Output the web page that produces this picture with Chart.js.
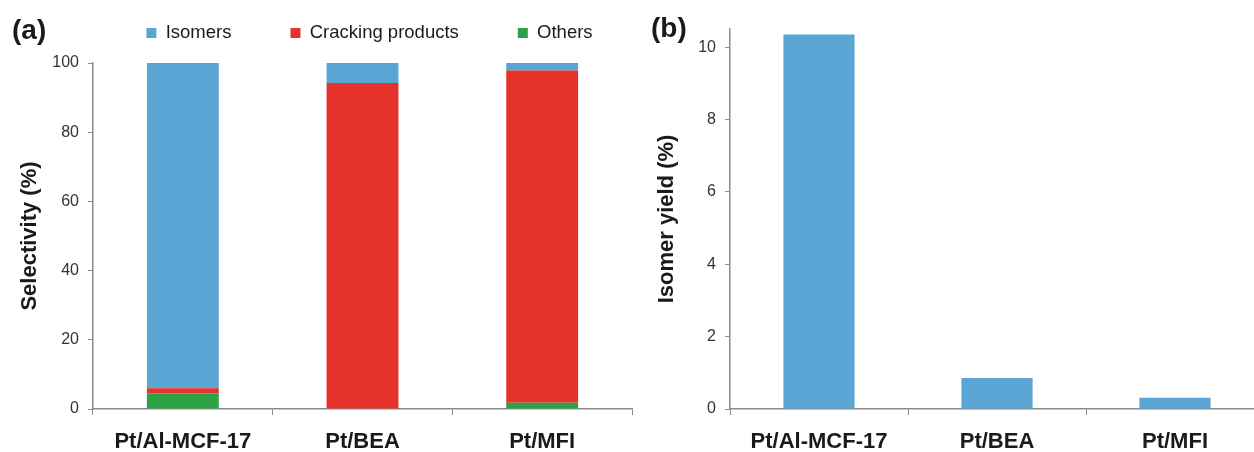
<!DOCTYPE html>
<html>
<head>
<meta charset="utf-8">
<script src="https://cdn.jsdelivr.net/npm/chart.js@4/dist/chart.umd.min.js"></script>
<style>
  html, body { margin: 0; padding: 0; background: #fff; overflow: hidden; width: 1254px; height: 452px; }
  #wa { position: absolute; left: 0; top: 0; width: 739px; height: 452px; }
  #wb { position: absolute; left: 627px; top: 0; width: 640px; height: 452px; }
  .lbl { position: absolute; font-family: "Liberation Sans", Arial, sans-serif; font-weight: bold; font-size: 28px; color: #1a1a1a; line-height: 1; }
</style>
</head>
<body>
<div id="wa"><canvas id="ca"></canvas></div>
<div id="wb"><canvas id="cb"></canvas></div>
<div class="lbl" style="left:12px; top:16px;">(a)</div>
<div class="lbl" style="left:651px; top:14px;">(b)</div>
<script>
const categories = ["Pt/Al-MCF-17", "Pt/BEA", "Pt/MFI"];
const isomers = [94.0, 5.8, 2.2];
const cracking = [1.5, 94.2, 96.0];
const others = [4.5, 0, 1.8];
const isomerYield = [10.35, 0.86, 0.31];
const selTicks = [0, 20, 40, 60, 80, 100];
const yieldTicks = [0, 2, 4, 6, 8, 10];

const FONT = '"Liberation Sans", Arial, sans-serif';
const AX = '#8c8c8c';
const BLUE = '#5ba5d5', RED = '#e5322b', GREEN = '#2ea046';

function spacer(axis, position, size) {
  return {
    type: 'linear', axis: axis, position: position, display: true,
    grid: { display: false, drawTicks: false }, border: { display: false },
    ticks: { display: false },
    afterFit: s => { if (axis === 'y') s.width = size; else s.height = size; }
  };
}

function xScale() {
  return {
    type: 'category',
    stacked: true,
    offset: true,
    grid: { offset: true, drawOnChartArea: false, drawTicks: true, tickLength: 6, color: AX, tickColor: AX },
    border: { color: AX, width: 1.5 },
    ticks: { color: '#1a1a1a', font: { family: FONT, size: 22, weight: 'bold' }, padding: 14, maxRotation: 0 },
    afterFit: s => { s.height = 43; }
  };
}

function yTicks() {
  return { color: '#333', font: { family: FONT, size: 16 }, padding: 9 };
}

Chart.defaults.animation = false;

new Chart(document.getElementById('ca'), {
  type: 'bar',
  data: {
    labels: categories,
    datasets: [
      { label: 'Others', data: others, backgroundColor: GREEN, categoryPercentage: 1, barPercentage: 0.4 },
      { label: 'Cracking products', data: cracking, backgroundColor: RED, categoryPercentage: 1, barPercentage: 0.4 },
      { label: 'Isomers', data: isomers, backgroundColor: BLUE, categoryPercentage: 1, barPercentage: 0.4 }
    ]
  },
  options: {
    responsive: true, maintainAspectRatio: false,
    layout: { padding: { top: -35.25, left: 0, right: 0, bottom: 0 } },
    plugins: {
      tooltip: { enabled: false },
      legend: {
        reverse: true,
        labels: { boxWidth: 10, boxHeight: 10, padding: 59, color: '#1a1a1a', font: { family: FONT, size: 18.5 } }
      }
    },
    scales: {
      x: xScale(),
      y: {
        stacked: true, min: 0, max: 100,
        afterBuildTicks: s => { s.ticks = selTicks.map(v => ({ value: v })); },
        grid: { drawOnChartArea: false, tickLength: 5, color: AX, tickColor: AX },
        border: { color: AX, width: 1.5 },
        ticks: yTicks(),
        title: { display: true, text: 'Selectivity (%)', color: '#1a1a1a', font: { family: FONT, size: 22, weight: 'bold' }, padding: { top: 17, bottom: 0 } },
        afterFit: s => { s.width = 93; }
      },
      sp1: spacer('y', 'right', 107),
      sp2: spacer('x', 'top', 10.75)
    }
  }
});

new Chart(document.getElementById('cb'), {
  type: 'bar',
  data: {
    labels: categories,
    datasets: [
      { label: 'Isomer yield', data: isomerYield, backgroundColor: BLUE, categoryPercentage: 1, barPercentage: 0.4 }
    ]
  },
  options: {
    responsive: true, maintainAspectRatio: false,
    layout: { padding: { top: 29, left: 0, right: 3, bottom: 0 } },
    plugins: { tooltip: { enabled: false }, legend: { display: false } },
    scales: {
      x: xScale(),
      y: {
        min: 0, max: 10.5,
        afterBuildTicks: s => { s.ticks = yieldTicks.map(v => ({ value: v })); },
        grid: { drawOnChartArea: false, tickLength: 5, color: AX, tickColor: AX },
        border: { color: AX, width: 1.5 },
        ticks: yTicks(),
        title: { display: true, text: 'Isomer yield (%)', color: '#1a1a1a', font: { family: FONT, size: 22, weight: 'bold' }, padding: { top: 27, bottom: 0 } },
        afterFit: s => { s.width = 103; }
      }
    }
  }
});
</script>
</body>
</html>
